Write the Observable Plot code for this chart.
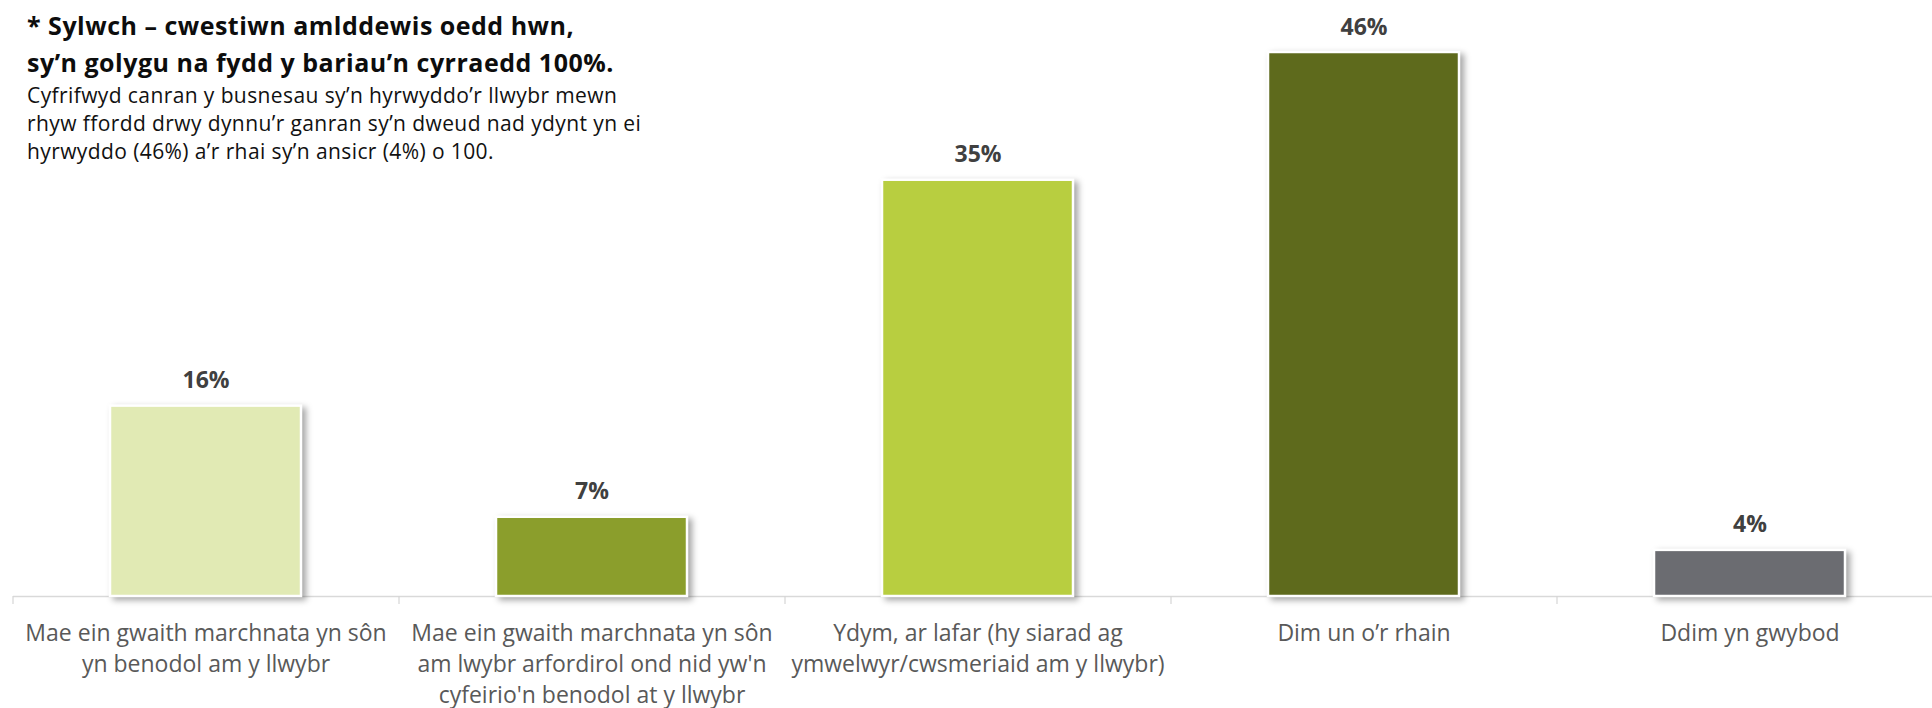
<!DOCTYPE html>
<html>
<head>
<meta charset="utf-8">
<script src="https://cdn.jsdelivr.net/npm/d3@7"></script>
<script src="https://cdn.jsdelivr.net/npm/@observablehq/plot@0.6"></script>
<style>
  html, body { margin: 0; padding: 0; background: #fff; }
  #wrap { position: relative; width: 1932px; height: 708px; }
  .note { position: absolute; left: 27px; font-family: "Open Sans", Lato, sans-serif; color: #111; z-index: 2; white-space: nowrap; }
  #title { top: 7px; font-size: 25px; letter-spacing: 0.5px; font-weight: 700; line-height: 36.7px; color: #0d0d0d; }
  #sub { top: 81px; font-size: 21px; letter-spacing: 0.4px; line-height: 28px; }
</style>
</head>
<body>
<div id="wrap">
  <div id="title" class="note">* Sylwch – cwestiwn amlddewis oedd hwn,<br>sy’n golygu na fydd y bariau’n cyrraedd 100%.</div>
  <div id="sub" class="note">Cyfrifwyd canran y busnesau sy’n hyrwyddo’r llwybr mewn<br>rhyw ffordd drwy dynnu’r ganran sy’n dweud nad ydynt yn ei<br>hyrwyddo (46%) a’r rhai sy’n ansicr (4%) o 100.</div>
  <div id="chart"></div>
</div>
<script>
const categories = [
  "Mae ein gwaith marchnata yn sôn\nyn benodol am y llwybr",
  "Mae ein gwaith marchnata yn sôn\nam lwybr arfordirol ond nid yw'n\ncyfeirio'n benodol at y llwybr",
  "Ydym, ar lafar (hy siarad ag\nymwelwyr/cwsmeriaid am y llwybr)",
  "Dim un o’r rhain",
  "Ddim yn gwybod"
];
const values = [16.1, 6.7, 35.2, 46, 3.9];
const colors = ["#E1EAB4", "#8B9E2C", "#B8CE40", "#5E6A1C", "#6B6C71"];

const data = categories.map((c, i) => ({cat: c, value: values[i], color: colors[i]}));

const W = 1932, H = 708, left = 13, bandStep = 386, pad = 0.505;
const xRange = [left, left + bandStep * categories.length];

const chart = Plot.plot({
  width: W,
  height: H,
  marginLeft: left,
  marginRight: 0,
  marginTop: 52,
  marginBottom: 112,
  style: {fontFamily: "'Open Sans', Lato, sans-serif", background: "#fff"},
  x: {domain: categories, range: xRange, paddingInner: pad, paddingOuter: pad / 2, align: 0.5},
  y: {domain: [0, 46], axis: null},
  marks: [
    Plot.ruleY([0], {stroke: "#d9d9d9", strokeWidth: 1.5}),
    Plot.axisX({tickSize: 8, stroke: "#d6d6d6", strokeWidth: 1.2, text: null, label: null, dx: -bandStep / 2}),
    Plot.axisX({tickSize: 0, tickPadding: 23, fontSize: 23, fill: "#595959", lineHeight: 1.34, label: null}),
    Plot.barY(data, {x: "cat", y: "value", fill: "color", stroke: "#fff", strokeWidth: 2.5}),
    Plot.text(data, {x: "cat", y: "value", text: d => Math.round(d.value) + "%", lineAnchor: "bottom", dy: -18, fontSize: 23, fontWeight: 700, fill: "#404040"})
  ]
});
chart.querySelectorAll('g[aria-label="bar"] rect').forEach(r => {
  r.style.filter = "drop-shadow(4px 3px 3px rgba(0,0,0,0.35))";
});
document.getElementById("chart").appendChild(chart);
</script>
</body>
</html>
